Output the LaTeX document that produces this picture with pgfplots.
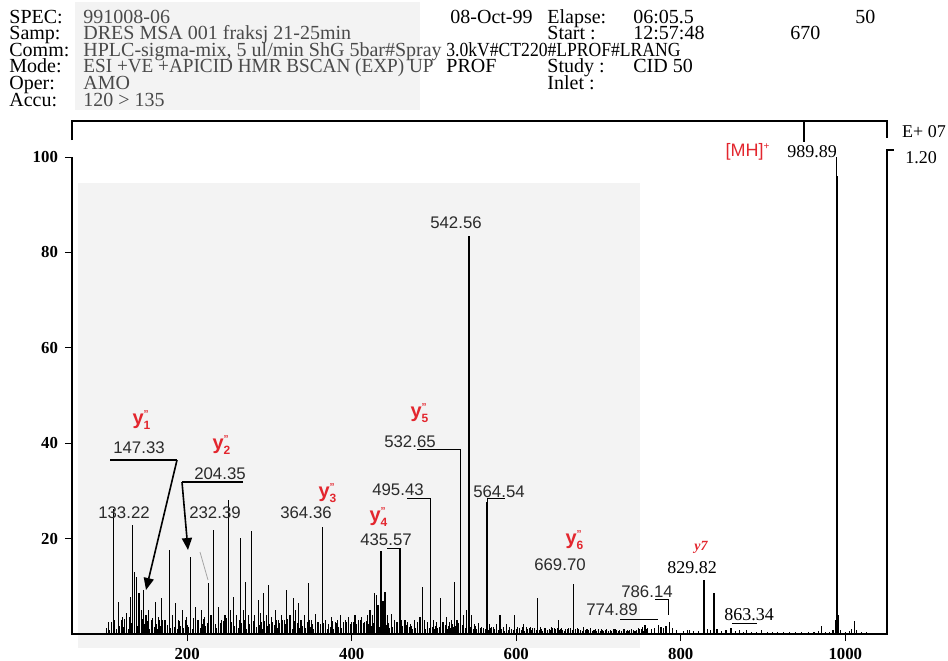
\documentclass[border=0pt]{standalone}
\usepackage{fontspec}
\setmainfont{Liberation Serif}
\setsansfont{Liberation Sans}
\usepackage{pgfplots}
\pgfplotsset{compat=1.18}
\usetikzlibrary{arrows.meta}
\definecolor{redlab}{HTML}{E3262E}
\definecolor{txtgray}{HTML}{4A4A4A}
\definecolor{lblgray}{HTML}{2A2A2A}
\definecolor{scan}{HTML}{F3F3F3}
\newcommand{\ylab}[1]{\textcolor{redlab}{\fontsize{10}{10}\selectfont\sffamily\bfseries y$_{\mbox{\fontsize{6}{6}\selectfont #1}}^{\mbox{\fontsize{5}{5}\selectfont ''}}$}}
\begin{document}
\begin{tikzpicture}
\useasboundingbox[fill=white] (0,0) rectangle (474pt,-330pt);
\begin{scope}[x=0.5pt,y=-0.5pt]
\fill[scan] (78,183) rectangle (640,648);
\fill[scan] (75,2) rectangle (420,110);
% ---------------- header ----------------
\begin{scope}[every node/.style={anchor=base west,inner sep=0pt,font=\fontsize{10}{10}\selectfont}]
\node at (9,23) {SPEC:};
\node[txtgray] at (83,23) {991008-06};
\node at (450,23) {08-Oct-99};
\node at (547,23) {Elapse:};
\node at (633,23) {06:05.5};
\node at (855,23) {50};
\node at (9,39) {Samp:};
\node[txtgray] at (83,39) {DRES MSA 001 fraksj 21-25min};
\node at (547,39) {Start :};
\node at (633,39) {12:57:48};
\node at (790,39) {670};
\node at (9,56) {Comm:};
\node[txtgray] at (83,56) {HPLC-sigma-mix, 5 ul/min ShG 5bar\#Spray};
\node at (446,56) {\scalebox{0.88}[1]{3.0kV\#CT220\#LPROF\#LRANG}};
\node at (9,72) {Mode:};
\node[txtgray] at (83,72) {\scalebox{0.96}[1]{ESI +VE +APICID HMR BSCAN (EXP) UP}};
\node at (446,72) {PROF};
\node at (547,72) {Study :};
\node at (633,72) {CID 50};
\node at (9,89) {Oper:};
\node[txtgray] at (83,89) {AMO};
\node at (547,89) {Inlet :};
\node at (9,106) {Accu:};
\node[txtgray] at (83,106) {120 > 135};
\end{scope}
% ---------------- frame lines ----------------
\draw[line width=0.7pt] (72,140) -- (72,121) -- (887,121) -- (887,138);
\draw[line width=0.7pt] (804,121) -- (804,142);
\draw[line width=0.7pt] (72,157) -- (72,634) -- (887,634) -- (887,150) -- (894,150);
\node[font=\fontsize{9}{9}\selectfont,inner sep=0pt] at (924,132) {E+ 07};
\node[font=\fontsize{9}{9}\selectfont,inner sep=0pt] at (921,158) {1.20};
\end{scope}
% ---------------- axis ----------------
\begin{axis}[at={(36pt,-317pt)}, anchor=south west, scale only axis,
  width=407.5pt, height=238.5pt,
  xmin=60, xmax=1050.7, ymin=0, ymax=100, clip=false,
  axis line style={draw=none},
  xtick={200,400,600,800,1000}, ytick={20,40,60,80,100},
  tick align=outside, xtick pos=bottom, ytick pos=left,
  major tick length=3.5pt, tick style={black,line width=0.5pt},
  tick label style={font=\fontsize{8.4}{8.4}\selectfont\bfseries},
  /pgf/number format/assume math mode=true,
  /pgf/number format/1000 sep={},
  ]
\addplot[ycomb, black, line width=0.4pt, mark=none] table[row sep=\\] {
x y\\
102 1.2\\ 104 2.0\\ 106 0.8\\ 108 2.6\\ 110 1.5\\ 112 3.0\\ 114 1.1\\ 116 2.2\\ 118 1.7\\ 120 2.9\\
122 1.4\\ 124 3.2\\ 126 2.1\\ 128 1.0\\ 130 3.6\\ 132 2.4\\ 134 1.3\\ 136 2.8\\ 138 3.4\\ 140 1.6\\
142 2.5\\ 144 1.2\\ 146 3.1\\ 148 2.0\\ 150 1.4\\ 152 2.7\\ 154 1.1\\ 156 2.3\\ 158 3.3\\ 160 1.5\\
162 2.2\\ 164 1.0\\ 166 2.9\\ 168 1.6\\ 170 3.0\\ 172 1.2\\ 174 2.4\\ 176 1.8\\ 178 2.6\\ 180 1.3\\
182 3.2\\ 184 1.5\\ 186 2.1\\ 188 1.0\\ 190 2.8\\ 192 1.7\\ 194 2.5\\ 196 1.2\\ 198 3.0\\ 200 1.9\\
202 1.4\\ 204 2.6\\ 206 1.1\\ 208 3.4\\ 210 2.0\\ 212 1.5\\ 214 2.9\\ 216 1.3\\ 218 2.2\\ 220 3.1\\
222 1.6\\ 224 2.4\\ 226 1.0\\ 228 2.7\\ 230 3.5\\ 232 1.8\\ 234 2.1\\ 236 1.2\\ 238 3.0\\ 240 2.3\\
242 1.5\\ 244 2.8\\ 246 1.1\\ 248 3.3\\ 250 2.0\\ 252 1.4\\ 254 2.6\\ 256 3.8\\ 258 1.7\\ 260 2.2\\
262 1.2\\ 264 3.0\\ 266 2.4\\ 268 1.6\\ 270 2.9\\ 272 1.1\\ 274 3.4\\ 276 2.0\\ 278 1.5\\ 280 2.7\\
282 2.3\\ 284 1.4\\ 286 3.1\\ 288 1.8\\ 290 2.5\\ 292 1.0\\ 294 2.8\\ 296 3.6\\ 298 1.6\\ 300 2.1\\
302 1.3\\ 304 2.6\\ 306 1.9\\ 308 3.0\\ 310 1.2\\ 312 2.4\\ 314 1.7\\ 316 2.9\\ 318 1.4\\ 320 2.2\\
322 3.2\\ 324 1.5\\ 326 2.0\\ 328 1.1\\ 330 2.7\\ 332 1.8\\ 334 2.3\\ 336 1.2\\ 338 2.9\\ 340 1.6\\
342 2.1\\ 344 1.3\\ 346 2.6\\ 348 3.0\\ 350 1.5\\ 352 2.2\\ 354 1.0\\ 356 2.5\\ 358 1.7\\ 360 1.3\\
362 2.0\\ 364 1.2\\ 366 2.4\\ 368 1.6\\ 370 1.0\\ 372 2.2\\ 374 1.4\\ 376 2.7\\ 378 1.1\\ 380 1.9\\
382 2.3\\ 384 1.5\\ 386 2.8\\ 388 1.2\\ 390 2.0\\ 392 1.6\\ 394 2.5\\ 396 1.0\\ 398 2.2\\ 400 1.7\\
402 2.6\\ 404 1.3\\ 406 2.1\\ 408 1.8\\ 410 2.9\\ 412 1.4\\ 414 2.3\\ 416 1.1\\ 418 2.7\\ 420 2.0\\
422 3.0\\ 424 1.6\\ 426 2.4\\ 428 3.4\\ 430 2.0\\ 432 2.8\\ 434 1.5\\ 436 3.2\\ 438 2.2\\ 440 2.6\\
442 1.8\\ 444 2.3\\ 446 1.2\\ 448 2.0\\ 450 1.5\\ 452 1.1\\ 454 1.8\\ 456 1.3\\ 458 2.2\\ 460 1.0\\
462 1.6\\ 464 1.2\\ 466 1.9\\ 468 1.0\\ 470 1.4\\ 472 1.7\\ 474 1.1\\ 476 1.5\\ 478 1.3\\ 480 1.8\\
482 1.2\\ 484 2.0\\ 486 1.4\\ 488 1.6\\ 490 1.1\\ 492 1.9\\ 494 1.3\\ 496 2.2\\ 498 1.5\\ 500 1.0\\
502 1.7\\ 504 1.2\\ 506 1.5\\ 508 2.0\\ 510 1.1\\ 512 1.4\\ 514 1.8\\ 516 1.0\\ 518 1.6\\ 520 1.3\\
522 2.1\\ 524 1.4\\ 526 1.7\\ 528 1.2\\ 530 2.4\\ 532 1.5\\ 534 1.9\\ 536 2.6\\ 538 1.3\\ 540 2.0\\
542 1.8\\ 544 1.5\\ 546 2.2\\ 548 1.1\\ 550 1.6\\ 552 1.0\\ 554 1.4\\ 556 1.2\\ 558 0.9\\ 560 1.3\\
562 1.0\\ 564 1.5\\ 566 0.8\\ 568 1.2\\ 570 1.4\\ 572 0.9\\ 574 1.1\\ 576 1.6\\ 578 0.8\\ 580 1.3\\
582 1.0\\ 584 1.4\\ 586 0.7\\ 588 1.2\\ 590 0.9\\ 592 1.5\\ 594 1.0\\ 596 0.8\\ 598 1.3\\ 600 1.1\\
602 0.8\\ 604 1.2\\ 606 0.9\\ 608 1.4\\ 610 0.7\\ 612 1.1\\ 614 1.0\\ 616 1.3\\ 618 0.8\\ 620 1.0\\
622 1.2\\ 624 0.9\\ 626 1.4\\ 628 0.8\\ 630 1.1\\ 632 0.7\\ 634 1.0\\ 636 1.2\\ 638 0.8\\ 640 1.1\\
642 0.9\\ 644 1.3\\ 646 0.7\\ 648 1.0\\ 650 1.2\\ 652 0.8\\ 654 1.1\\ 656 0.9\\ 658 0.7\\ 660 1.0\\
662 1.1\\ 664 0.8\\ 666 1.2\\ 668 0.9\\ 670 0.7\\ 672 1.0\\ 674 0.8\\ 676 1.1\\ 678 0.9\\ 680 0.7\\
682 1.0\\ 684 0.8\\ 686 0.6\\ 688 0.9\\ 690 1.1\\ 692 0.7\\ 694 0.8\\ 696 1.0\\ 698 0.6\\ 700 0.9\\
702 0.7\\ 704 1.0\\ 706 0.6\\ 708 0.8\\ 710 0.9\\ 712 0.6\\ 714 0.8\\ 716 0.7\\ 718 1.0\\ 720 0.6\\
722 0.8\\ 724 0.7\\ 726 0.9\\ 728 0.6\\ 730 0.8\\ 732 1.0\\ 734 0.7\\ 736 0.6\\ 738 0.9\\ 740 0.7\\
742 0.8\\ 744 0.6\\ 746 0.9\\ 748 1.2\\ 750 0.8\\ 752 1.1\\ 754 0.7\\ 756 1.3\\ 758 1.0\\ 760 0.9\\
};
\addplot[ycomb, black, line width=0.55pt, mark=none] table[row sep=\\] {
x y\\
104 2.6\\ 110 26.3\\ 116.5 6.8\\ 121 3.5\\ 126 4.5\\ 130.6 7.7\\ 133.2 22.9\\ 135.9 13.1\\ 138.7 12.0\\
141.5 8.5\\ 144 5\\ 147.3 9.2\\ 150 4\\ 153 5\\ 157 3\\ 161.8 6.8\\ 165 3.5\\ 169.3 7.5\\ 173 3\\
178.1 17.6\\ 182 4\\ 185.3 6.4\\ 190 3\\ 194.3 5\\ 199 3.5\\ 204.4 16.2\\ 209.6 5.7\\ 213 3\\ 217.7 5\\
221 3.5\\ 225.8 10.6\\ 229 4\\ 232.4 21.8\\ 238 5.7\\ 242 3\\ 246 4\\ 250.1 28.1\\ 253 5\\ 256.2 7.7\\
260 4\\ 265.1 20.1\\ 268 5\\ 270.4 11\\ 274 4\\ 278.5 21.5\\ 282 4\\ 286.6 7.1\\ 289 4.5\\ 292.7 8.5\\
296 4\\ 298.8 10.3\\ 302 3.5\\ 306.9 5\\ 311 3\\ 315 4\\ 318 3\\ 321.1 9.2\\ 325 4\\ 329.2 7.5\\
332 5\\ 335.3 6.4\\ 339 3\\ 343 4\\ 347.4 10.6\\ 351 3\\ 355.5 4.3\\ 359 2.5\\ 364.4 22.5\\ 368 3\\
372 2\\ 375.8 3.6\\ 380 2.5\\ 383 3\\ 386 4\\ 390 2.5\\ 393 3\\ 396 3.6\\ 400 2.5\\ 404 4\\ 408 3\\
412 3.6\\ 416 2.5\\ 419 4\\ 422.2 5\\ 425 4\\ 427.5 8.5\\ 430.3 8.2\\ 432 6\\ 435.6 17.3\\ 438 7\\
440.5 8.9\\ 444 4\\ 448.6 4.3\\ 452 3\\ 455 2.5\\ 458.7 17.9\\ 461 3\\ 464.8 2.9\\ 468 2.5\\ 472 2\\
476 3\\ 480 2.5\\ 483 3.5\\ 486.3 9.9\\ 489 3\\ 492 2.5\\ 495.4 26.3\\ 499 3\\ 503 2.5\\ 507.4 7.5\\
511 2.5\\ 515.5 3.6\\ 519 2.5\\ 521 3\\ 524.5 11\\ 528 3\\ 532.6 36\\ 536 4\\ 539 5\\ 542.6 83.5\\
546 4\\ 549 2\\ 553.9 2.3\\ 558 1.5\\ 564.5 27.7\\ 568 2\\ 572 1.5\\ 576 2\\ 580.2 4\\ 584 1.5\\
588 2\\ 592 1.5\\ 597.6 4\\ 602 1.5\\ 608.6 2\\ 612 1.5\\ 617 1.5\\ 620 1.2\\ 625.6 7.5\\ 630 1.5\\
635 1.2\\ 640 1\\ 643 1.5\\ 647 1.2\\ 651 2.9\\ 655 1.2\\ 660 1\\ 664 1.2\\ 669.7 10.5\\ 674 1.3\\
681.5 1.5\\ 686 1\\ 690 1.2\\ 695 0.8\\ 700 1\\ 705 0.8\\ 710 1\\ 715 0.8\\ 720 1\\ 725 0.7\\
730 1\\ 735 0.8\\ 740 1\\ 745 0.7\\ 750 1\\ 753 1.5\\ 756.5 1.8\\ 760 1.2\\ 764 1\\ 768 1.3\\
772.8 1.9\\ 776 1.5\\ 779 1.2\\ 782 1.7\\ 786.1 2.6\\ 790 1.2\\ 795 0.8\\ 803 0.7\\ 808 0.8\\ 811 0.9\\
816 0.6\\ 822 0.6\\ 828.2 11.3\\ 832 1\\ 836 0.8\\ 840.4 8.5\\ 844 1\\ 850 0.6\\ 855 0.8\\ 861.1 1.3\\
866 0.7\\ 871 0.9\\ 876 0.5\\ 880 0.8\\ 886 0.5\\ 892 0.5\\ 898.6 0.8\\ 905 0.5\\ 912 0.4\\ 918 0.5\\
925 0.4\\ 932 0.5\\ 940 0.4\\ 947 0.5\\ 955 0.4\\ 962 0.4\\ 967 0.6\\ 971.3 1.7\\ 976 0.5\\ 981 0.4\\
985 0.8\\ 988 3\\ 989.6 100\\ 990.4 96\\ 991.5 4\\ 994 0.8\\ 1000 0.4\\ 1005 0.6\\ 1008 1\\ 1011 2.8\\
1014 0.8\\ 1020 0.4\\ 1026 0.5\\ 1032 0.3\\ 1040 0.3\\
};
\end{axis}
% ---------------- annotations ----------------
\begin{scope}[x=0.5pt,y=-0.5pt]
\begin{scope}[every node/.style={inner sep=0pt,font=\fontsize{8.4}{8.4}\selectfont\sffamily,text=lblgray}]
\node at (456,223) {542.56};
\node at (139,448) {147.33};
\node at (220,474) {204.35};
\node at (124,513) {133.22};
\node at (215,513) {232.39};
\node at (306,513) {364.36};
\node at (410,442) {532.65};
\node at (398,490) {495.43};
\node at (499,492) {564.54};
\node at (386,540) {435.57};
\node at (560,565) {669.70};
\node at (612,610) {774.89};
\node at (647,592) {786.14};
\end{scope}
\begin{scope}[every node/.style={inner sep=0pt,font=\fontsize{9}{9}\selectfont}]
\node at (692,568) {829.82};
\node at (749,615) {863.34};
\node at (812,152) {989.89};
\end{scope}
\node[inner sep=0pt,text=redlab,font=\fontsize{9}{9}\selectfont\sffamily] at (748,152) {[MH]$^{\mbox{\fontsize{5}{5}\selectfont +}}$};
\node[inner sep=0pt] at (142,420) {\ylab{1}};
\node[inner sep=0pt] at (222,445) {\ylab{2}};
\node[inner sep=0pt] at (328,493) {\ylab{3}};
\node[inner sep=0pt] at (379,517) {\ylab{4}};
\node[inner sep=0pt] at (420,413) {\ylab{5}};
\node[inner sep=0pt] at (575,540) {\ylab{6}};
\node[inner sep=0pt,text=redlab,font=\fontsize{7}{7}\selectfont\bfseries\itshape] at (701,547) {y7};
% brackets and arrows
\draw[line width=0.6pt] (110,460) -- (177,460);
\draw[line width=0.8pt,-{Triangle[length=6pt,width=5pt]}] (177,460) -- (146,590);
\draw[line width=0.6pt] (243,482) -- (182,482);
\draw[line width=0.8pt,-{Triangle[length=6pt,width=5pt]}] (182,482) -- (188,550);
\draw[gray!70,line width=0.4pt] (200,552) -- (208,580);
\draw[line width=0.5pt] (417,449) -- (460,449) -- (460,470);
\draw[line width=0.5pt] (407,498) -- (430,498) -- (430,510);
\draw[line width=0.5pt] (505,498) -- (487,498) -- (487,505);
\draw[line width=0.5pt] (387,548) -- (400,548) -- (400,557);
\draw[line width=0.5pt] (620,619) -- (658,619);
\draw[line width=0.5pt] (655,599) -- (668,599) -- (668,615);
\draw[line width=0.5pt] (732,623) -- (757,623);
\end{scope}
\end{tikzpicture}
\end{document}
